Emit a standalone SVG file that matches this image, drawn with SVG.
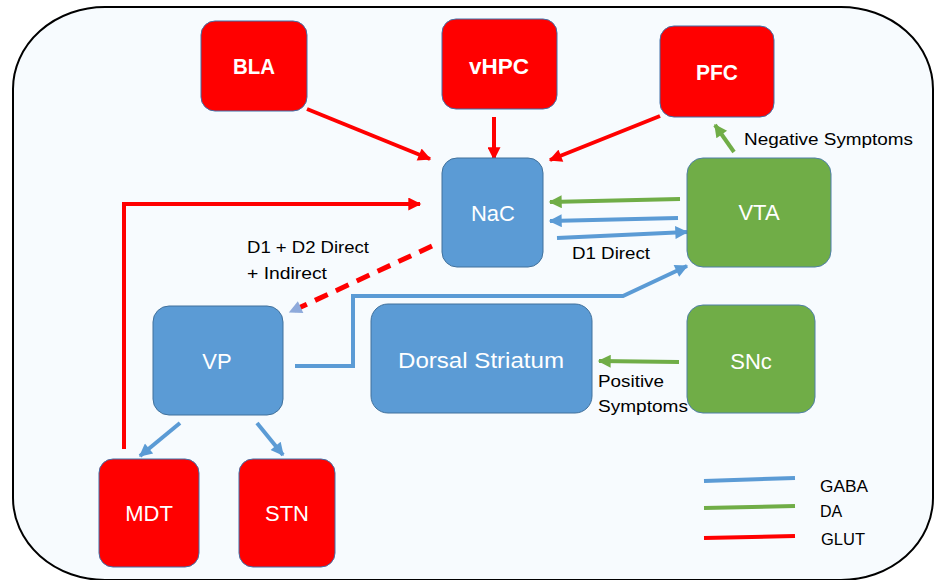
<svg xmlns="http://www.w3.org/2000/svg" width="937" height="580" viewBox="0 0 937 580">
  <style>
    .frame { fill: #f7fbfe; stroke: #000; stroke-width: 2; }
    .glut { fill: #ff0000; stroke: #3f6fa8; stroke-width: 1; }
    .gaba { fill: #5b9bd5; stroke: #41719c; stroke-width: 1; }
    .da   { fill: #70ad47; stroke: #4f7fa8; stroke-width: 1; }
    .lbl  { font-family: "Liberation Sans", Arial, sans-serif; fill: #fff; text-anchor: middle; }
    .bold { font-weight: bold; font-size: 22px; }
    .reg  { font-size: 22px; }
    .note { font-family: "Liberation Sans", Arial, sans-serif; font-size: 16px; fill: #000; }
    .r { stroke: #ff0000; stroke-width: 4; fill: none; }
    .b { stroke: #5b9bd5; stroke-width: 4; fill: none; }
    .g { stroke: #70ad47; stroke-width: 4; fill: none; }
  </style>
  <defs>
    <marker id="ahR" viewBox="0 0 10 10" refX="9" refY="5" markerWidth="15" markerHeight="13" markerUnits="userSpaceOnUse" orient="auto">
      <path d="M0,0 L10,5 L0,10 Z" fill="#ff0000"/>
    </marker>
    <marker id="ahB" viewBox="0 0 10 10" refX="9" refY="5" markerWidth="15" markerHeight="13" markerUnits="userSpaceOnUse" orient="auto">
      <path d="M0,0 L10,5 L0,10 Z" fill="#5b9bd5"/>
    </marker>
    <marker id="ahG" viewBox="0 0 10 10" refX="9" refY="5" markerWidth="15" markerHeight="13" markerUnits="userSpaceOnUse" orient="auto">
      <path d="M0,0 L10,5 L0,10 Z" fill="#70ad47"/>
    </marker>
    <marker id="ahL" viewBox="0 0 10 10" refX="9" refY="5" markerWidth="15" markerHeight="13" markerUnits="userSpaceOnUse" orient="auto">
      <path d="M0,0 L10,5 L0,10 Z" fill="#8eaadb"/>
    </marker>
  </defs>

  <!-- enclosing panel -->
  <rect class="frame" x="13" y="7" width="920" height="573" rx="92" ry="82"/>

  <!-- connectors -->
  <g id="connectors">
    <line class="r" x1="307" y1="109" x2="430" y2="159" marker-end="url(#ahR)"/>
    <line class="r" x1="494" y1="117" x2="494" y2="159" marker-end="url(#ahR)"/>
    <line class="r" x1="660" y1="116" x2="550" y2="160" marker-end="url(#ahR)"/>
    <polyline class="r" points="124,449 124,204 420,204" marker-end="url(#ahR)"/>
    <line x1="432" y1="246" x2="290" y2="312" stroke="#ff0000" stroke-width="5" stroke-dasharray="14,9" marker-end="url(#ahL)"/>

    <line class="g" x1="680" y1="199" x2="550" y2="202" marker-end="url(#ahG)"/>
    <line class="b" x1="678" y1="218" x2="550" y2="221" marker-end="url(#ahB)"/>
    <line class="b" x1="557" y1="238" x2="687" y2="232" marker-end="url(#ahB)"/>
    <polyline class="b" points="295,366 353,366 353,296 623,296 687,266" marker-end="url(#ahB)"/>
    <line class="g" x1="734" y1="152" x2="715" y2="125" marker-end="url(#ahG)"/>
    <line class="g" x1="679" y1="362" x2="599" y2="361" marker-end="url(#ahG)"/>
    <line class="b" x1="180" y1="423" x2="140" y2="456" marker-end="url(#ahB)"/>
    <line class="b" x1="257" y1="423" x2="283" y2="455" marker-end="url(#ahB)"/>
  </g>

  <!-- nodes -->
  <g id="BLA"><rect class="glut" x="201" y="21" width="106" height="90" rx="14"/><text class="lbl bold" x="254" y="74" textLength="42" lengthAdjust="spacingAndGlyphs">BLA</text></g>
  <g id="vHPC"><rect class="glut" x="442" y="19" width="115" height="90" rx="14"/><text class="lbl bold" x="499" y="74" textLength="60" lengthAdjust="spacingAndGlyphs">vHPC</text></g>
  <g id="PFC"><rect class="glut" x="660" y="26" width="114" height="91" rx="14"/><text class="lbl bold" x="717" y="80" textLength="42" lengthAdjust="spacingAndGlyphs">PFC</text></g>
  <g id="NaC"><rect class="gaba" x="442" y="158" width="101" height="109" rx="15"/><text class="lbl reg" x="493" y="221">NaC</text></g>
  <g id="VTA"><rect class="da" x="687" y="158" width="144" height="109" rx="16"/><text class="lbl reg" x="759" y="220">VTA</text></g>
  <g id="VP"><rect class="gaba" x="153" y="306" width="130" height="109" rx="16"/><text class="lbl reg" x="217" y="369">VP</text></g>
  <g id="DorsalStriatum"><rect class="gaba" x="371" y="304" width="221" height="109" rx="17"/><text class="lbl reg" x="481" y="368" textLength="166" lengthAdjust="spacingAndGlyphs">Dorsal Striatum</text></g>
  <g id="SNc"><rect class="da" x="687" y="305" width="128" height="108" rx="16"/><text class="lbl reg" x="751" y="369">SNc</text></g>
  <g id="MDT"><rect class="glut" x="99" y="459" width="100" height="108" rx="14"/><text class="lbl reg" x="149" y="521">MDT</text></g>
  <g id="STN"><rect class="glut" x="239" y="459" width="96" height="108" rx="14"/><text class="lbl reg" x="287" y="521">STN</text></g>

  <!-- annotations -->
  <g id="labels">
    <text class="note" x="744" y="145" textLength="169" lengthAdjust="spacingAndGlyphs">Negative Symptoms</text>
    <text class="note" x="572" y="259" textLength="78" lengthAdjust="spacingAndGlyphs">D1 Direct</text>
    <text class="note" x="247" y="253" textLength="122" lengthAdjust="spacingAndGlyphs">D1 + D2 Direct</text>
    <text class="note" x="247" y="279" textLength="80" lengthAdjust="spacingAndGlyphs">+ Indirect</text>
    <text class="note" x="598" y="387" textLength="66" lengthAdjust="spacingAndGlyphs">Positive</text>
    <text class="note" x="598" y="412" textLength="90" lengthAdjust="spacingAndGlyphs">Symptoms</text>
  </g>

  <!-- legend -->
  <g id="legend">
    <line class="b" x1="704" y1="481" x2="795" y2="478"/>
    <line class="g" x1="704" y1="508" x2="795" y2="506"/>
    <line class="r" x1="704" y1="538" x2="795" y2="536"/>
    <text class="note" x="820" y="492" textLength="48" lengthAdjust="spacingAndGlyphs">GABA</text>
    <text class="note" x="820" y="517">DA</text>
    <text class="note" x="821" y="545" textLength="44" lengthAdjust="spacingAndGlyphs">GLUT</text>
  </g>
</svg>
